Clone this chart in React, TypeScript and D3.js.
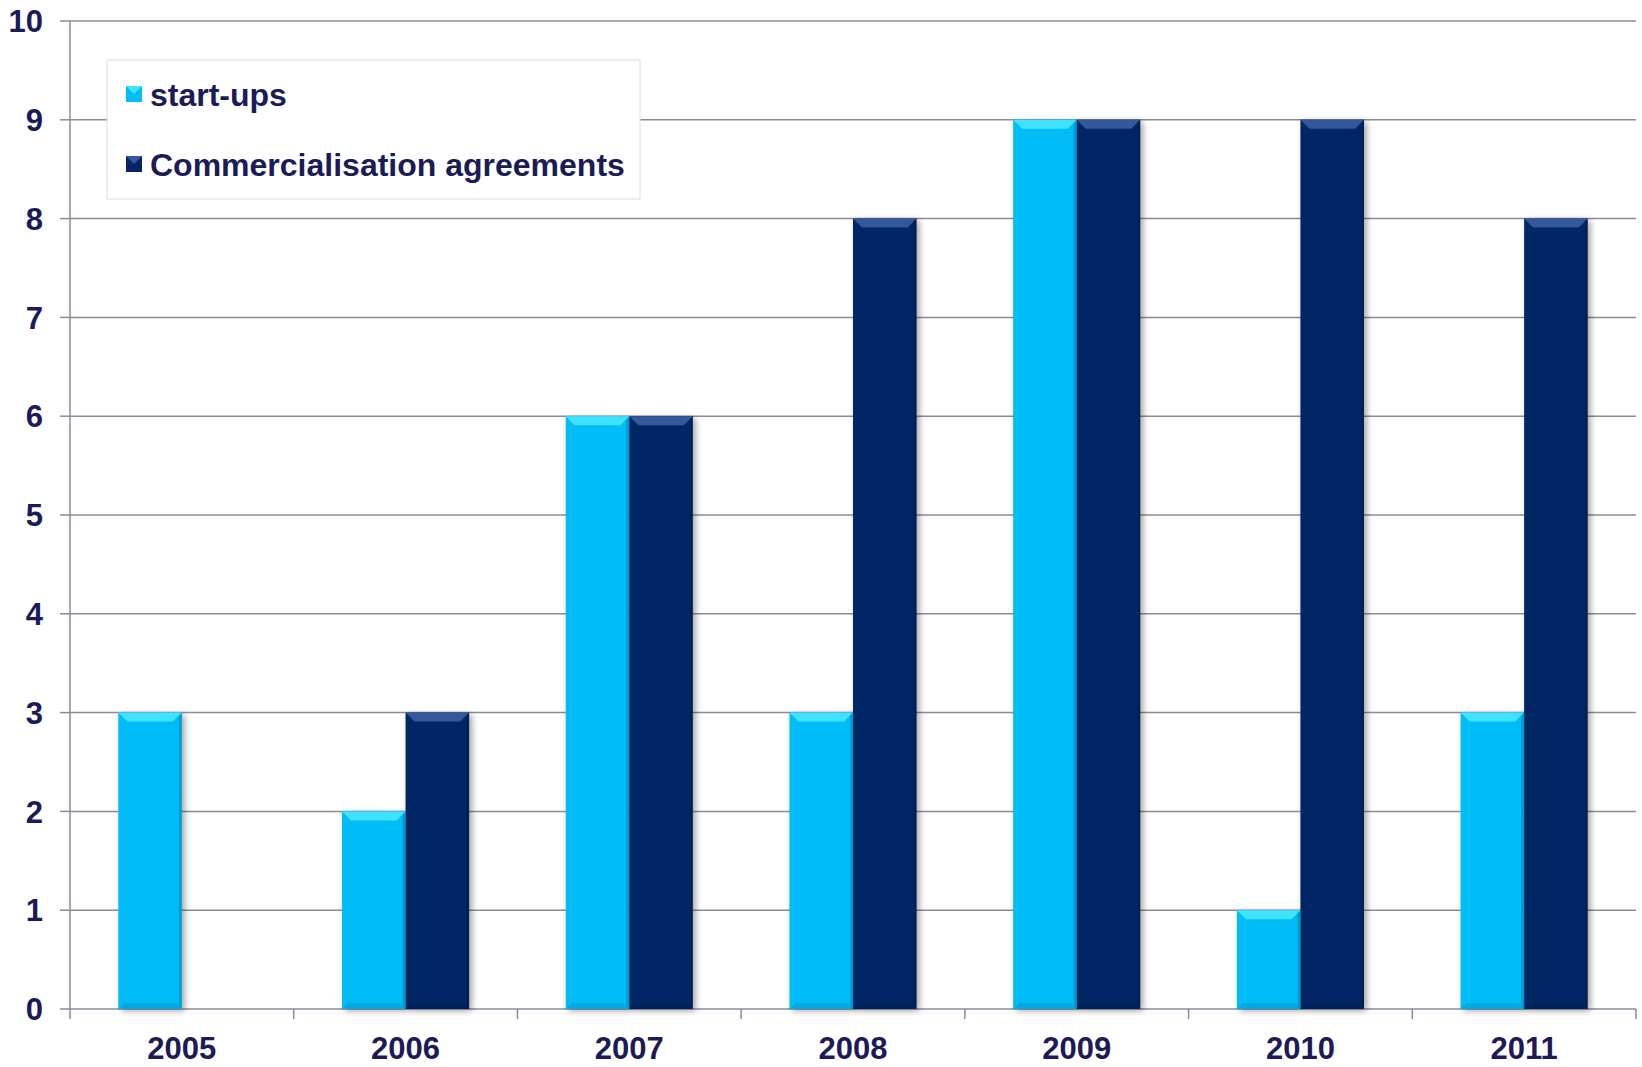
import React from "react";
import * as d3 from "d3";

const years = ["2005", "2006", "2007", "2008", "2009", "2010", "2011"];
const startups = [3, 2, 6, 3, 9, 1, 3];
const commercial = [0, 3, 6, 8, 9, 9, 8];
const seriesNames = ["start-ups", "Commercialisation agreements"];
const seriesColors = ["#03BDF8", "#062566"];
const bevelColors = ["#40E2FF", "#34589C"];
const yTicks = [0, 1, 2, 3, 4, 5, 6, 7, 8, 9, 10];

const W = 1642;
const H = 1067;
const M = { left: 70, right: 6, top: 21, bottom: 58 };
const TEXT = "#1B1B57";
const FONT = "'Liberation Sans', Arial, sans-serif";

export default function App() {
  const x0 = d3.scaleBand<string>().domain(years).range([M.left, W - M.right]).padding(0);
  const x1 = d3
    .scaleBand<number>()
    .domain([0, 1])
    .range([0, x0.bandwidth()])
    .paddingInner(0)
    .paddingOuter(0.76);
  const y = d3.scaleLinear().domain([0, 10]).range([H - M.bottom, M.top]);
  const bw = x1.bandwidth();
  const values = [startups, commercial];
  const bev = 9;

  return (
    <div style={{ position: "fixed", left: 0, top: 0 }}>
      <svg width={W} height={H} style={{ display: "block", background: "#fff" }}>
        <defs>
          <filter id="sh" x="-20%" y="-5%" width="150%" height="115%">
            <feGaussianBlur in="SourceAlpha" stdDeviation="3" />
            <feOffset dx="3" dy="2" result="b" />
            <feComponentTransfer>
              <feFuncA type="linear" slope="0.35" />
            </feComponentTransfer>
            <feMerge>
              <feMergeNode />
              <feMergeNode in="SourceGraphic" />
            </feMerge>
          </filter>
        </defs>
        {yTicks.map((t) => (
          <line
            key={"g" + t}
            x1={M.left}
            x2={W - M.right}
            y1={y(t)}
            y2={y(t)}
            stroke="#8C8A9A"
            strokeWidth={1.5}
          />
        ))}
        <line x1={M.left} x2={M.left} y1={y(10)} y2={y(0)} stroke="#8C8A9A" strokeWidth={1.5} />
        {yTicks.map((t) => (
          <g key={"yt" + t}>
            <line x1={M.left - 10} x2={M.left} y1={y(t)} y2={y(t)} stroke="#8C8A9A" strokeWidth={1.5} />
            <text
              x={43}
              y={y(t)}
              dy="0.36em"
              textAnchor="end"
              fontFamily={FONT}
              fontWeight="bold"
              fontSize={31}
              fill={TEXT}
            >
              {t}
            </text>
          </g>
        ))}
        {[...years.map((yr) => x0(yr)!), W - M.right].map((xv, i) => (
          <line key={"xt" + i} x1={xv} x2={xv} y1={y(0)} y2={y(0) + 10} stroke="#8C8A9A" strokeWidth={1.5} />
        ))}
        {years.map((yr) => (
          <text
            key={"xl" + yr}
            x={x0(yr)! + x0.bandwidth() / 2}
            y={1059}
            textAnchor="middle"
            fontFamily={FONT}
            fontWeight="bold"
            fontSize={31}
            fill={TEXT}
          >
            {yr}
          </text>
        ))}
        {years.map((yr, i) => (
          <g key={"b" + yr}>
            {[0, 1].map((s) => {
              const v = values[s][i];
              if (!v) return null;
              const bx = x0(yr)! + x1(s)!;
              const by = y(v);
              const bh = y(0) - by;
              return (
                <g key={s}>
                  <rect x={bx} y={by} width={bw} height={bh} fill={seriesColors[s]} filter="url(#sh)" />
                  <polygon
                    points={`${bx},${by} ${bx + bw},${by} ${bx + bw - bev},${by + bev} ${bx + bev},${by + bev}`}
                    fill={bevelColors[s]}
                  />
                  <polygon
                    points={`${bx + bw},${by} ${bx + bw},${by + bh} ${bx + bw - 3},${by + bh - 3} ${bx + bw - 3},${by + 3}`}
                    fill="#000"
                    opacity={0.15}
                  />
                  <polygon
                    points={`${bx},${by + bh} ${bx + bw},${by + bh} ${bx + bw - 6},${by + bh - 6} ${bx + 6},${by + bh - 6}`}
                    fill="#000"
                    opacity={0.1}
                  />
                </g>
              );
            })}
          </g>
        ))}
        <rect x={107} y={60} width={533} height={139} fill="#fff" stroke="#DCDCE0" strokeWidth={1} />
        {seriesNames.map((n, i) => {
          const cy = i === 0 ? 94 : 164;
          return (
            <g key={"lg" + i}>
              <rect x={126} y={cy - 8} width={16} height={16} fill={seriesColors[i]} />
              <polygon points={`${126},${cy - 8} ${142},${cy - 8} ${134},${cy}`} fill={bevelColors[i]} />
              <text
                x={150}
                y={cy}
                dy="0.36em"
                fontFamily={FONT}
                fontWeight="bold"
                fontSize={32}
                fill={TEXT}
              >
                {n}
              </text>
            </g>
          );
        })}
      </svg>
    </div>
  );
}
